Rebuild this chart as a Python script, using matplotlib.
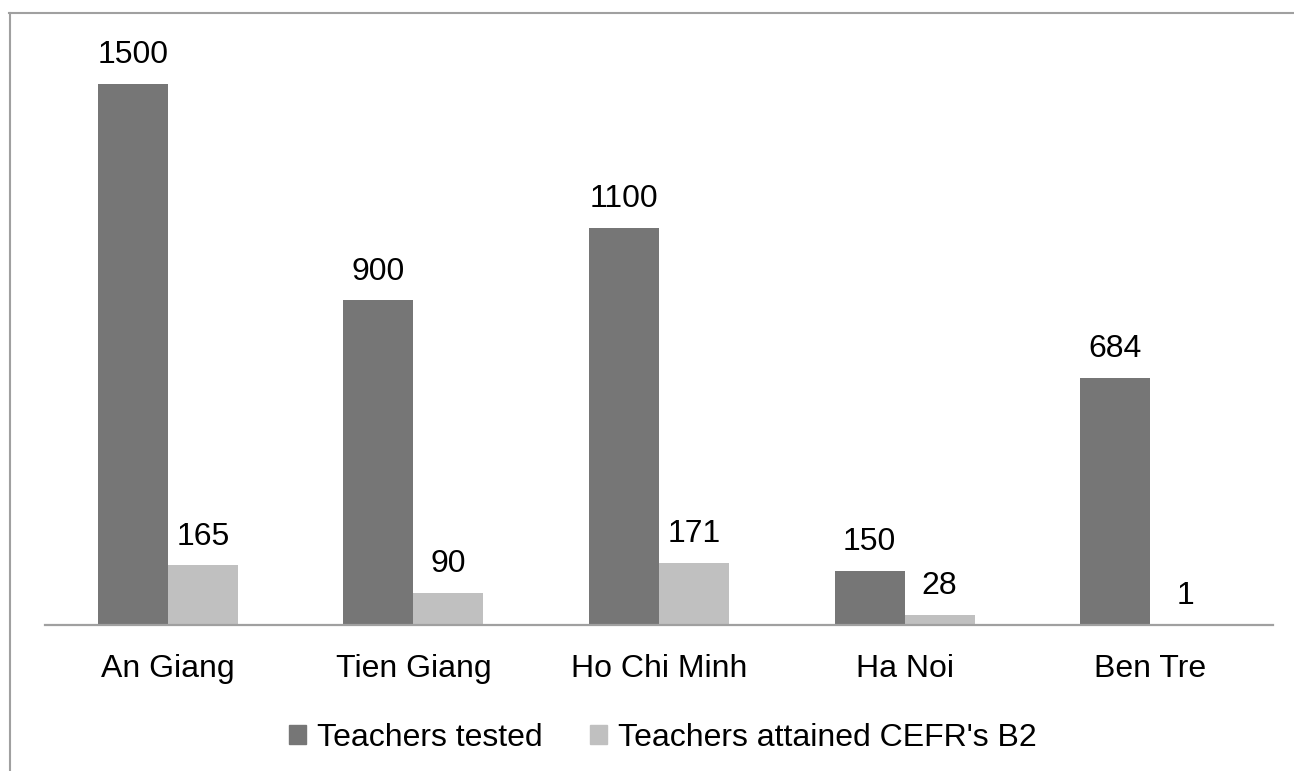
import matplotlib.pyplot as plt
from matplotlib.lines import Line2D
from matplotlib.patches import Patch
import numpy as np

provinces = ["An Giang", "Tien Giang", "Ho Chi Minh", "Ha Noi", "Ben Tre"]
tested = [1500, 900, 1100, 150, 684]
attained = [165, 90, 171, 28, 1]
series_names = ["Teachers tested", "Teachers attained CEFR's B2"]

dark = "#767676"
light = "#c0c0c0"
line_gray = "#a0a0a0"

plt.rcParams["font.family"] = ["Liberation Sans", "DejaVu Sans"]

W, H = 1294, 771
fig = plt.figure(figsize=(W / 100, H / 100), dpi=100)

# plot area in pixel terms
left, right, base, top = 45, 1273, 625, 48
ax = fig.add_axes([left / W, (H - base) / H, (right - left) / W, (base - top) / H])

x = np.arange(len(provinces))
w = 0.285
b1 = ax.bar(x - w / 2, tested, w, color=dark, label=series_names[0])
b2 = ax.bar(x + w / 2, attained, w, color=light, label=series_names[1])

for bars, vals in ((b1, tested), (b2, attained)):
    for bar, v in zip(bars, vals):
        ax.annotate(str(v), (bar.get_x() + bar.get_width() / 2, v),
                    xytext=(0, 10), textcoords="offset points",
                    ha="center", va="bottom", fontsize=23)

ax.set_xlim(-0.5, len(provinces) - 0.5)
ax.set_ylim(0, 1600)
ax.set_xticks(x)
ax.set_xticklabels(provinces, fontsize=23)
ax.tick_params(axis="x", length=0, pad=21)
ax.set_yticks([])
for s in ("top", "right", "left"):
    ax.spines[s].set_visible(False)
ax.spines["bottom"].set_color(line_gray)
ax.spines["bottom"].set_linewidth(1.6)

handles = [Patch(color=dark), Patch(color=light)]
fig.legend(handles, series_names, loc="center", bbox_to_anchor=(663 / W, (H - 738) / H),
           ncol=2, frameon=False, fontsize=23, handlelength=0.53, handleheight=0.53,
           handletextpad=0.33, columnspacing=1.5, borderpad=0, borderaxespad=0)

# outer chart border (top and left edges only)
fig.add_artist(Line2D([9 / W, 1], [1 - 13 / H, 1 - 13 / H], color=line_gray, lw=1.5,
                      transform=fig.transFigure))
fig.add_artist(Line2D([10 / W, 10 / W], [0, 1 - 13 / H], color=line_gray, lw=1.5,
                      transform=fig.transFigure))

fig.savefig("out.png", dpi=100)
